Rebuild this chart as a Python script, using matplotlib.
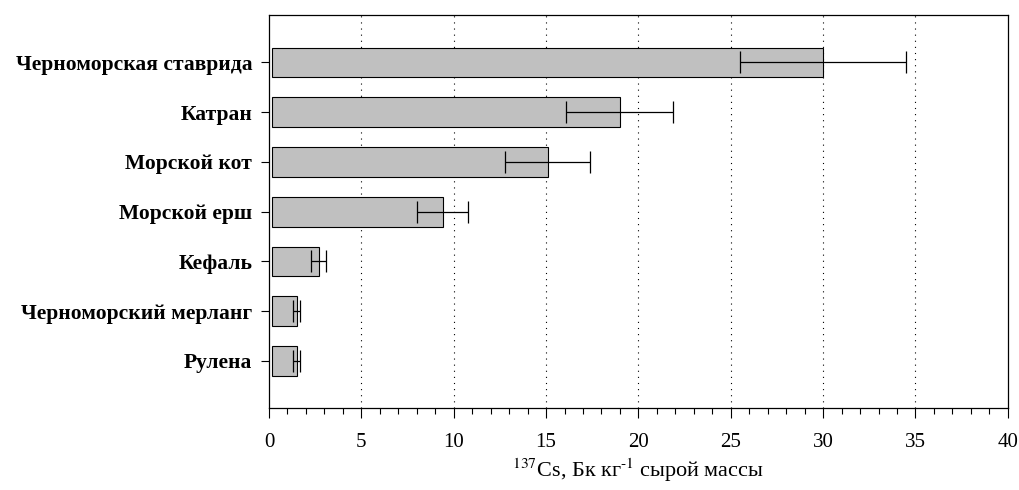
import matplotlib
matplotlib.use("Agg")
import matplotlib.pyplot as plt
import numpy as np
from matplotlib.ticker import MultipleLocator

plt.rcParams['font.family'] = ['Liberation Serif', 'DejaVu Serif']
plt.rcParams['mathtext.fontset'] = 'stix'

species = ['Черноморская ставрида', 'Катран', 'Морской кот', 'Морской ерш',
           'Кефаль', 'Черноморский мерланг', 'Рулена']
values = [30.0, 19.0, 15.1, 9.4, 2.7, 1.5, 1.5]
errors = [4.5, 2.9, 2.3, 1.4, 0.4, 0.2, 0.2]

fig = plt.figure(figsize=(10.19, 4.9), dpi=100)
ax = fig.add_axes([0.264, 0.167, 0.725, 0.802])

# bars start a little right of the axis line, as in the original
start = 0.15
y = np.arange(len(species))[::-1]
ax.barh(y, np.array(values) - start, left=start, height=0.6, color='#c0c0c0',
        edgecolor='black', linewidth=0.8, zorder=2)
ax.errorbar(values, y, xerr=errors, fmt='none', ecolor='black',
            elinewidth=0.9, capsize=8, capthick=0.9, zorder=3)

# dotted grid lines
for gx in range(5, 40, 5):
    ax.axvline(gx, color='black', linestyle=(0, (1, 4.5)), linewidth=0.8, zorder=1)

ax.set_xlim(0, 40)
ax.set_ylim(-0.95, 6.95)
ax.xaxis.set_major_locator(MultipleLocator(5))
ax.xaxis.set_minor_locator(MultipleLocator(1))
ax.tick_params(axis='x', which='major', direction='out', length=7, width=0.8, labelsize=15, pad=11)
ax.tick_params(axis='x', which='minor', direction='out', length=4, width=0.8)
ax.tick_params(axis='y', direction='out', length=6, width=0.8, labelsize=15.5, pad=6)

ax.set_yticks(y)
ax.set_yticklabels(species, fontweight='bold')

for s in ax.spines.values():
    s.set_linewidth(0.9)

ax.set_xlabel(r'$^{137}$Cs, Бк кг$^{\text{-1}}\;$сырой массы', fontsize=16, labelpad=3)

fig.savefig('out.png', dpi=100)
